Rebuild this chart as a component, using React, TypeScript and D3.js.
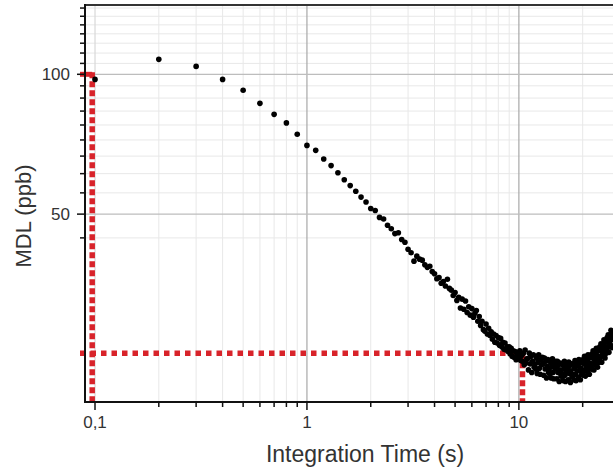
import * as d3 from 'd3';
import React from 'react';

// MDL (ppb), one point every 0.1 s of integration time
const STEP = 0.1;
const mdlShort = [97.5, 107.7, 104.0, 97.5, 92.4, 86.6, 82.0, 78.6, 74.3];
const mdlMid = [
  70.3, 68.6, 65.7, 63.6, 61.4, 59.3, 57.6, 56.0, 54.4, 53.1,
  51.4, 50.9, 49.2, 48.8, 47.3, 46.5, 45.4, 45.6, 44.1, 43.5,
  42.0, 41.3, 39.6, 40.6, 40.0, 39.8, 38.9, 38.4, 38.6, 37.6,
  37.2, 36.3, 36.5, 35.5, 35.8, 35.0, 36.2, 34.6, 34.3, 33.4,
  33.9, 32.6, 33.1, 31.4, 32.8, 31.2, 32.5, 30.7, 31.6, 30.3,
  31.3, 30.0, 30.6, 31.0, 29.4, 30.1, 28.8, 29.4, 28.2, 28.0,
  29.0, 27.6, 28.4, 27.4, 27.9, 26.9, 27.6, 26.5, 27.4, 26.4,
  27.1, 26.1, 27.0, 25.9, 26.5, 25.6, 26.4, 25.5, 25.9, 25.3,
  25.9, 25.0, 25.7, 24.7, 25.4, 24.6, 25.3, 24.3, 25.0, 24.6,
  24.9, 25.4, 24.2, 24.8, 24.1, 25.1, 23.7, 25.5, 23.9, 24.4,
];
const mdlLong = [
  24.4, 23.1, 25.1, 23.8, 24.7, 22.8, 24.1, 24.9, 23.4, 23.7,
  23.2, 24.5, 22.7, 24.0, 24.9, 23.3, 22.6, 24.3, 23.7, 24.6,
  23.8, 22.5, 24.5, 23.2, 24.1, 22.2, 23.5, 24.3, 22.8, 23.1,
  22.7, 24.0, 22.2, 23.5, 24.4, 22.8, 22.1, 23.8, 23.2, 24.1,
  23.4, 22.1, 24.1, 22.8, 23.7, 21.8, 23.1, 23.9, 22.4, 22.7,
  22.4, 23.7, 21.9, 23.2, 24.1, 22.5, 21.8, 23.5, 22.9, 23.8,
  23.3, 22.0, 24.0, 22.7, 23.6, 21.7, 23.0, 23.8, 22.3, 22.6,
  22.5, 23.8, 22.0, 23.3, 24.2, 22.6, 21.9, 23.6, 23.0, 23.9,
  23.6, 22.3, 24.3, 23.0, 23.9, 22.0, 23.3, 24.1, 22.6, 22.9,
  23.0, 24.3, 22.5, 23.8, 24.7, 23.1, 22.4, 24.1, 23.5, 24.4,
  24.2, 22.9, 24.9, 23.6, 24.5, 22.6, 23.9, 24.7, 23.2, 23.5,
  23.7, 25.0, 23.2, 24.5, 25.4, 23.8, 23.1, 24.8, 24.2, 25.1,
  25.0, 23.7, 25.7, 24.4, 25.3, 23.4, 24.7, 25.5, 24.0, 24.3,
  24.6, 25.9, 24.1, 25.4, 26.3, 24.7, 24.0, 25.7, 25.1, 26.0,
  26.1, 24.8, 26.8, 25.5, 26.4, 24.5, 25.8, 26.6, 25.1, 25.4,
  25.8, 27.1, 25.3, 26.6, 27.5, 25.9, 25.2, 26.9, 26.3, 27.2,
  27.4, 26.1, 28.1, 26.8, 27.7, 25.8, 27.1, 27.9,
];

// red guide lines: MDL at ~0.1 s and at ~10 s
const guides = [
  { t: 0.097, mdl: 100 },
  { t: 10.4, mdl: 25.1 },
];

const xMajor = [0.1, 1, 10];
const xMajorLabels = ['0,1', '1', '10'];
const yMajor = [50, 100];
const yMajorLabels = ['50', '100'];

export default function App() {
  const W = 613;
  const H = 467;
  const left = 85;
  const top = 5;
  const bottom = 402;

  const points = mdlShort
    .concat(mdlMid, mdlLong)
    .map((v, i) => ({ t: +((i + 1) * STEP).toFixed(1), mdl: v }));

  const x = d3.scaleLog().domain([0.0897, 30]).range([left, 620]);
  const y = d3.scaleLog().domain([19.7, 141]).range([bottom, top]);

  // minor ticks: 2..9 per decade on x, majors/9 steps on y
  const xMinor: number[] = [];
  [0.1, 1, 10].forEach(d => {
    for (let k = 2; k <= 9; k++) {
      const v = d * k;
      if (v <= 30) xMinor.push(v);
    }
  });
  const yMinor: number[] = [];
  for (let v = 50 - 50 / 9; v < 141; v += 50 / 9) {
    if (v > 19.7 && Math.abs(v - 50) > 0.01 && Math.abs(v - 100) > 0.01) yMinor.push(v);
  }

  const font = '"Liberation Sans", Arial, sans-serif';
  const red = '#d8232a';
  const [g1, g2] = guides;

  return (
    <svg
      width={W}
      height={H}
      style={{ position: 'absolute', left: 0, top: 0, background: '#fff' }}
      fontFamily={font}
    >
      {/* minor grid */}
      {xMinor.map(v => (
        <line key={'xm' + v} x1={x(v)} x2={x(v)} y1={top} y2={bottom} stroke="#e8e8e8" strokeWidth={1} />
      ))}
      {yMinor.map(v => (
        <line key={'ym' + v} x1={left} x2={W} y1={y(v)} y2={y(v)} stroke="#e8e8e8" strokeWidth={1} />
      ))}
      {/* major grid */}
      {xMajor.map(v => (
        <line key={'xg' + v} x1={x(v)} x2={x(v)} y1={top} y2={bottom}
          stroke={v === 0.1 ? '#d8d8d8' : '#a8a8a8'} strokeWidth={1.2} />
      ))}
      {yMajor.map(v => (
        <line key={'yg' + v} x1={left} x2={W} y1={y(v)} y2={y(v)} stroke="#bdbdbd" strokeWidth={1.3} />
      ))}

      {/* red guides */}
      <line x1={80} x2={x(g1.t)} y1={y(g1.mdl)} y2={y(g1.mdl)} stroke={red} strokeWidth={5} />
      <line x1={x(g1.t)} x2={x(g1.t)} y1={y(g1.mdl) - 2} y2={bottom + 1} stroke={red} strokeWidth={5.5} strokeDasharray="6 3" />
      <line x1={80} x2={x(g2.t)} y1={y(g2.mdl)} y2={y(g2.mdl)} stroke={red} strokeWidth={5.5} strokeDasharray="5.5 5" />
      <line x1={x(g2.t)} x2={x(g2.t)} y1={y(g2.mdl)} y2={bottom + 1} stroke={red} strokeWidth={5.5} strokeDasharray="6 3" />

      {/* data */}
      {points.map(p => (
        <circle key={p.t} cx={x(p.t)} cy={y(p.mdl)} r={2.8} fill="#000" />
      ))}

      {/* frame */}
      <line x1={left} x2={W} y1={top} y2={top} stroke="#333" strokeWidth={1.8} />
      <line x1={left} x2={left} y1={top - 1} y2={bottom + 1} stroke="#111" strokeWidth={2} />
      <line x1={left - 1} x2={W} y1={bottom} y2={bottom} stroke="#111" strokeWidth={2} />

      {/* y ticks */}
      {yMinor.map(v => (
        <line key={'yt' + v} x1={left - 5} x2={left} y1={y(v)} y2={y(v)} stroke="#111" strokeWidth={1.5} />
      ))}
      {yMajor.map((v, i) => (
        <g key={'yl' + v}>
          <line x1={left - 8} x2={left} y1={y(v)} y2={y(v)} stroke="#111" strokeWidth={1.5} />
          <text x={70} y={y(v)} dy="0.35em" textAnchor="end" fontSize={17} fill="#333">
            {yMajorLabels[i]}
          </text>
        </g>
      ))}

      {/* x ticks */}
      {xMinor.map(v => (
        <line key={'xt' + v} x1={x(v)} x2={x(v)} y1={bottom} y2={bottom + 5} stroke="#111" strokeWidth={1.5} />
      ))}
      {xMajor.map((v, i) => (
        <g key={'xl' + v}>
          <line x1={x(v)} x2={x(v)} y1={bottom} y2={bottom + 8} stroke="#111" strokeWidth={1.5} />
          <text x={x(v)} y={428} textAnchor="middle" fontSize={17} fill="#333">
            {xMajorLabels[i]}
          </text>
        </g>
      ))}

      {/* axis titles */}
      <text x={365} y={462} textAnchor="middle" fontSize={23} fill="#333">
        Integration Time (s)
      </text>
      <text transform="translate(31,216) rotate(-90)" textAnchor="middle" fontSize={22} fill="#333">
        MDL (ppb)
      </text>
    </svg>
  );
}
